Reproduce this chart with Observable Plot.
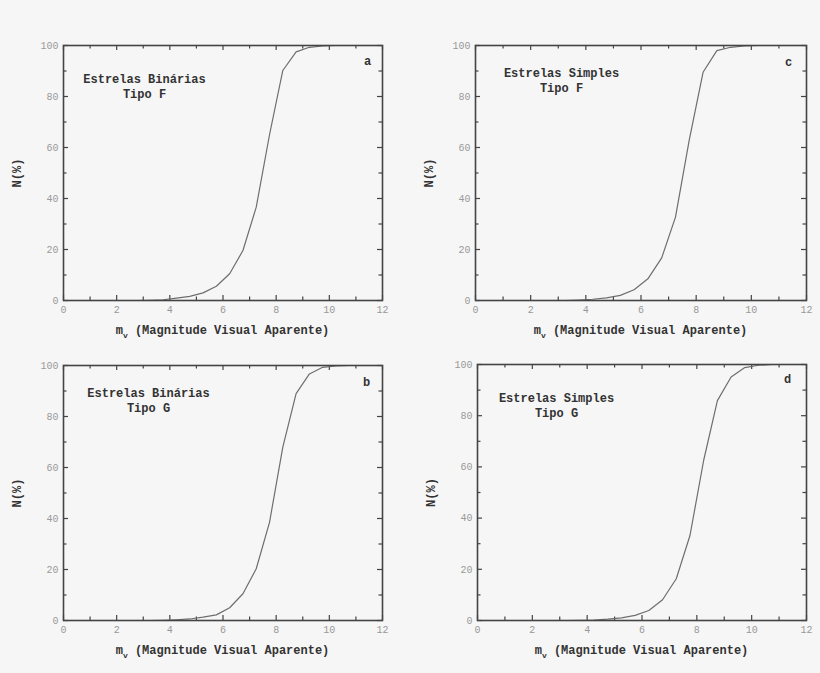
<!DOCTYPE html>
<html><head><meta charset="utf-8">
<script src="https://cdn.jsdelivr.net/npm/d3@7"></script>
<script src="https://cdn.jsdelivr.net/npm/@observablehq/plot@0.6"></script>
<style>
html,body{margin:0;padding:0;background:#f6f6f6;}
#wrap{position:relative;width:820px;height:673px;background:#f6f6f6;}
.panel{position:absolute;}
</style></head><body><div id="wrap"></div>
<script>
// apparent visual magnitude (bin centres)
const mv = [2.75, 3.25, 3.75, 4.25, 4.75, 5.25, 5.75, 6.25, 6.75, 7.25, 7.75, 8.25, 8.75, 9.25, 9.75, 10.25, 10.75];
// cumulative N(%)
const binF = [0, 0.1, 0.3, 0.9, 1.6, 3.0, 5.6, 10.5, 19.6, 36.6, 65, 90.2, 97.5, 99.3, 99.8, 100, 100];
const binG = [0, 0, 0.1, 0.3, 0.6, 1.3, 2.2, 5.0, 10.5, 20.3, 38.5, 68, 89, 96.7, 99.3, 99.8, 100];
const simF = [0, 0, 0.2, 0.5, 1.0, 2.0, 4.2, 8.5, 16.7, 32.7, 63, 89.5, 98, 99.3, 99.8, 100, 100];
const simG = [0, 0, 0.1, 0.2, 0.5, 1.0, 2.0, 3.9, 8.1, 16.3, 33.2, 62.6, 85.9, 95.1, 98.8, 99.7, 100];

const xMajor = [0, 2, 4, 6, 8, 10, 12];
const xMinor = [1, 3, 5, 7, 9, 11];
const yMajor = [0, 20, 40, 60, 80, 100];
const yMinor = [10, 30, 50, 70, 90];

const titles = ["Estrelas Binárias\nTipo F", "Estrelas Binárias\nTipo G", "Estrelas Simples\nTipo F", "Estrelas Simples\nTipo G"];
const letters = ["a", "b", "c", "d"];
const series = [binF, binG, simF, simG];
const yLabel = "N(%)";

const layout = [
  {left: 0,   top: 0,   ml: 63, mr: 28, mt: 45, mb: 40, tdx: 81, tdy: 40, ldx: -15, ldy: 16},
  {left: 0,   top: 320, ml: 63, mr: 28, mt: 45, mb: 40, tdx: 85, tdy: 34, ldx: -16, ldy: 17},
  {left: 410, top: 0,   ml: 65, mr: 14, mt: 45, mb: 40, tdx: 86, tdy: 34, ldx: -18, ldy: 17},
  {left: 410, top: 320, ml: 67, mr: 14, mt: 44, mb: 40, tdx: 79, tdy: 40, ldx: -19, ldy: 15}
];

const W = 410, H = 340;
const MONO = "'Liberation Mono', 'DejaVu Sans Mono', monospace";
const wrap = document.getElementById("wrap");

series.forEach((vals, i) => {
  const L = layout[i];
  const data = mv.map((x, j) => ({x, y: vals[j]}));
  const fh = H - L.mt - L.mb;
  const fw = W - L.ml - L.mr;
  const tickColor = "#444";
  const chart = Plot.plot({
    width: W, height: H,
    marginLeft: L.ml, marginRight: L.mr, marginTop: L.mt, marginBottom: L.mb,
    style: {background: "none", overflow: "visible", fontFamily: MONO},
    x: {domain: [0, 12]},
    y: {domain: [0, 100]},
    marks: [
      Plot.axisX({ticks: xMajor, tickSize: 0, tickPadding: 5, fontSize: 10, fill: "#999", label: null, tickFormat: d => String(d)}),
      Plot.axisY({ticks: yMajor, tickSize: 0, tickPadding: 5, fontSize: 10, fill: "#999", label: null, tickFormat: d => String(d)}),
      // inward ticks, bottom & top
      Plot.tickX(xMajor, {x: d => d, insetTop: fh - 5, stroke: tickColor, strokeWidth: 1.2}),
      Plot.tickX(xMinor, {x: d => d, insetTop: fh - 3.5, stroke: tickColor, strokeWidth: 1.2}),
      Plot.tickX(xMajor, {x: d => d, insetBottom: fh - 5, stroke: tickColor, strokeWidth: 1.2}),
      Plot.tickX(xMinor, {x: d => d, insetBottom: fh - 3.5, stroke: tickColor, strokeWidth: 1.2}),
      // inward ticks, left & right
      Plot.tickY(yMajor, {y: d => d, insetRight: fw - 5, stroke: tickColor, strokeWidth: 1.2}),
      Plot.tickY(yMinor, {y: d => d, insetRight: fw - 3.5, stroke: tickColor, strokeWidth: 1.2}),
      Plot.tickY(yMajor, {y: d => d, insetLeft: fw - 5, stroke: tickColor, strokeWidth: 1.2}),
      Plot.tickY(yMinor, {y: d => d, insetLeft: fw - 3.5, stroke: tickColor, strokeWidth: 1.2}),
      Plot.line(data, {x: "x", y: "y", stroke: "#6e6e6e", strokeWidth: 1.2}),
      Plot.frame({stroke: "#444", strokeWidth: 1.6}),
      Plot.text([titles[i]], {text: d => d, frameAnchor: "top-left", dx: L.tdx, dy: L.tdy, textAnchor: "middle", lineAnchor: "middle", lineHeight: 1.3, fontSize: 12, fontWeight: "bold", fill: "#333", fontFamily: MONO}),
      Plot.text([letters[i]], {text: d => d, frameAnchor: "top-right", dx: L.ldx, dy: L.ldy, textAnchor: "middle", lineAnchor: "middle", fontSize: 12, fontWeight: "bold", fill: "#333", fontFamily: MONO}),
      Plot.text([yLabel], {text: d => d, frameAnchor: "left", dx: -46, rotate: -90, textAnchor: "middle", lineAnchor: "middle", fontSize: 12, fontWeight: "bold", fill: "#333", fontFamily: MONO})
    ]
  });
  const svg = d3.select(chart);
  const cx = L.ml + fw / 2;
  const t = svg.append("text")
    .attr("x", cx).attr("y", H - L.mb + 34)
    .attr("text-anchor", "middle")
    .attr("fill", "#333")
    .style("font-family", MONO).style("font-weight", "bold").style("font-size", "12px");
  t.append("tspan").text("m");
  t.append("tspan").attr("dy", 4).style("font-size", "8px").text("v");
  t.append("tspan").attr("dy", -4).text(" (Magnitude Visual Aparente)");
  const div = document.createElement("div");
  div.className = "panel";
  div.style.left = L.left + "px";
  div.style.top = L.top + "px";
  div.appendChild(chart);
  wrap.appendChild(div);
});
</script>
</body></html>
